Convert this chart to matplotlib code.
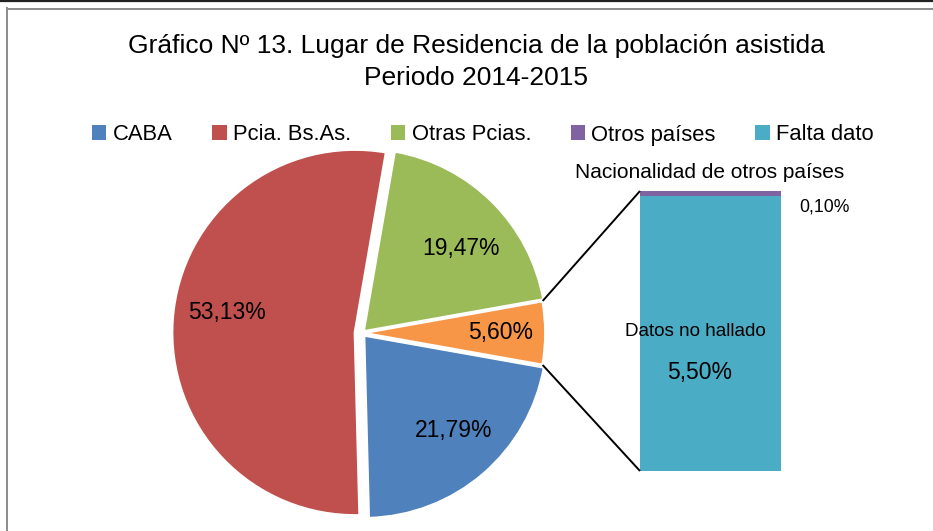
import numpy as np
import matplotlib
matplotlib.use("Agg")
import matplotlib.pyplot as plt
from matplotlib.patches import Patch
from matplotlib.lines import Line2D

# data
title_lines = ["Gráfico Nº 13. Lugar de Residencia de la población asistida",
               "Periodo 2014-2015"]
pie_names = ["CABA", "Pcia. Bs.As.", "Otras Pcias."]
pie_values = [21.79, 53.13, 19.47]
other_value = 5.60
bar_names = ["Falta dato", "Otros países"]
bar_values = [5.50, 0.10]
bar_caption = "Nacionalidad de otros países"
bar_inner_label = "Datos no hallado"
legend_names = ["CABA", "Pcia. Bs.As.", "Otras Pcias.", "Otros países", "Falta dato"]

colors = {"CABA": "#4F81BD", "Pcia. Bs.As.": "#C0504D", "Otras Pcias.": "#9BBB59",
          "Otros países": "#8064A2", "Falta dato": "#4BACC6", "other": "#F79646"}

W, H = 933, 531
FONT = "Liberation Sans"


def pct(v):
    return f"{v:.2f}%".replace(".", ",")


def Y(p):
    # pixel row (from top) -> data y
    return H - p


fig = plt.figure(figsize=(W / 100, H / 100), dpi=100)
ax = fig.add_axes([0, 0, 1, 1])

values = pie_values + [other_value]
total = sum(values)
wedge_colors = [colors[n] for n in pie_names] + [colors["other"]]
center = (362, Y(333))
radius = 183
# explode is in data units (pixels here)
wedges, _ = ax.pie(values, colors=wedge_colors, startangle=-other_value / total * 180,
                   counterclock=False, center=center, radius=radius,
                   explode=[3, 7, 2, 0.5],
                   wedgeprops=dict(edgecolor="white", linewidth=2))

# bar of the "other" slice
bar_x, bar_w = 710.5, 141
bar_bottom, bar_px = Y(471), 280
scale = bar_px / sum(bar_values)
bottom = bar_bottom
for name, v in zip(bar_names, bar_values):
    ax.bar(bar_x, v * scale, width=bar_w, bottom=bottom, color=colors[name], linewidth=0)
    bottom += v * scale

# connector lines from the orange slice to the bar
ow = wedges[3]
cx, cy = ow.center
for ang, by in ((ow.theta2, bar_bottom + bar_px), (ow.theta1, bar_bottom)):
    a = np.deg2rad(ang)
    ax.plot([cx + radius * np.cos(a), bar_x - bar_w / 2], [cy + radius * np.sin(a), by],
            color="black", lw=1.4, solid_capstyle="butt")

# data labels
label_pos = [(454, 430), (227, 313), (461, 248), (501, 333)]
for v, (px, py) in zip(values, label_pos):
    ax.text(px, Y(py), pct(v), ha="center", va="center", fontsize=16.5,
            family=FONT, color="black")
ax.text(695, Y(331), bar_inner_label, ha="center", va="center", fontsize=13.6,
        family=FONT, color="black")
ax.text(700, Y(372), pct(bar_values[0]), ha="center", va="center", fontsize=16.5,
        family=FONT, color="black")
ax.text(710, Y(172), bar_caption, ha="center", va="center", fontsize=15,
        family=FONT, color="black")
ax.text(824, Y(207), pct(bar_values[1]), ha="center", va="center", fontsize=12.7,
        family=FONT, color="black")

ax.set_xlim(0, W)
ax.set_ylim(0, H)
ax.set_aspect("auto")
ax.axis("off")

# title
fig.text(476 / W, 1 - 46 / H, title_lines[0], ha="center", va="center",
         fontsize=19, family=FONT)
fig.text(476 / W, 1 - 78 / H, title_lines[1], ha="center", va="center",
         fontsize=19, family=FONT)

# legend
handles = [Patch(facecolor=colors[n], edgecolor="none") for n in legend_names]
fig.legend(handles, legend_names, loc="center", bbox_to_anchor=(483 / W, 1 - 135 / H),
           ncol=5, frameon=False, prop={"family": FONT, "size": 15.8},
           handlelength=0.65, handleheight=0.65, handletextpad=0.3,
           columnspacing=1.8, borderpad=0, borderaxespad=0)

# chart frame
fig.add_artist(Line2D([0, 1], [1 - 1 / H, 1 - 1 / H], color="#222222", lw=1.6))
fig.add_artist(Line2D([7 / W, 1], [1 - 8.5 / H, 1 - 8.5 / H], color="#8c8c8c", lw=1.4))
fig.add_artist(Line2D([7 / W, 7 / W], [0, 1 - 8 / H], color="#8c8c8c", lw=1.4))

fig.savefig("out.png", dpi=100)
